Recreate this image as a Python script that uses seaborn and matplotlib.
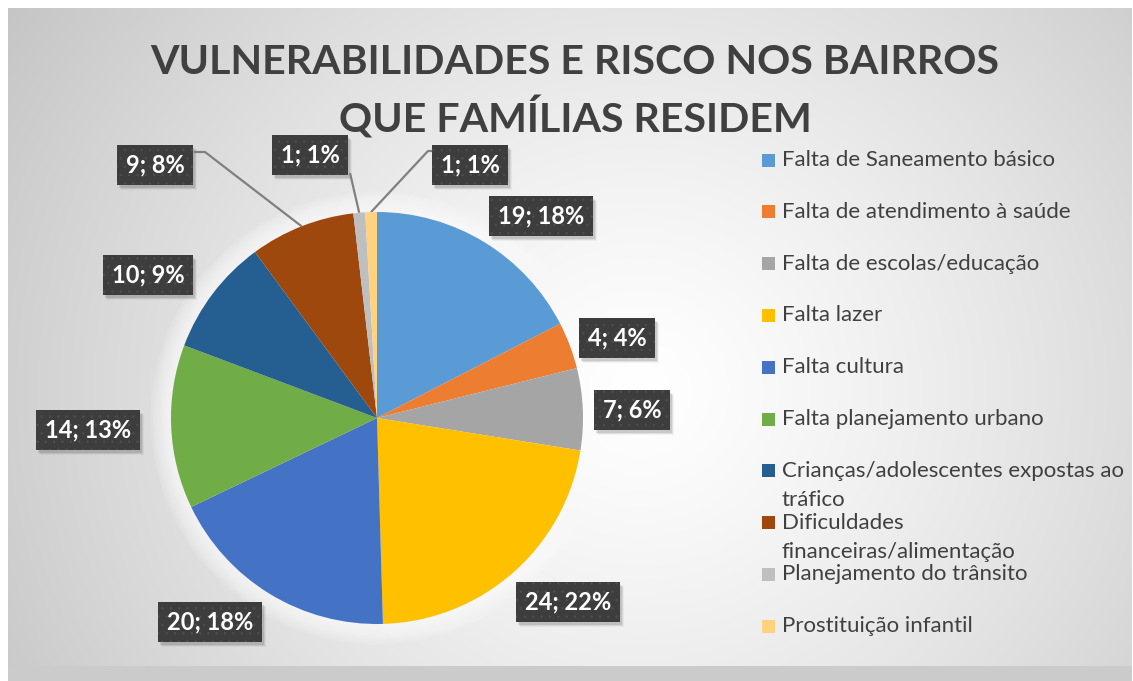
import numpy as np
import matplotlib
matplotlib.use("Agg")
import matplotlib.pyplot as plt
import seaborn as sns
from matplotlib.patches import Rectangle, Circle

# dados
categories = [
    "Falta de Saneamento básico",
    "Falta de atendimento à saúde",
    "Falta de escolas/educação",
    "Falta lazer",
    "Falta cultura",
    "Falta planejamento urbano",
    "Crianças/adolescentes expostas ao\ntráfico",
    "Dificuldades\nfinanceiras/alimentação",
    "Planejamento do trânsito",
    "Prostituição infantil",
]
counts = [19, 4, 7, 24, 20, 14, 10, 9, 1, 1]
percent_labels = ["18%", "4%", "6%", "22%", "18%", "13%", "9%", "8%", "1%", "1%"]
colors = ["#5B9BD5", "#ED7D31", "#A5A5A5", "#FFC000", "#4472C4",
          "#70AD47", "#255E91", "#9E480E", "#BFBFBF", "#FFD27F"]
title_lines = ["VULNERABILIDADES E RISCO NOS BAIRROS", "QUE FAMÍLIAS RESIDEM"]

# layout em pixels (origem no canto superior esquerdo)
W, H = 1133, 681
pie_cx, pie_cy, pie_r = 377, 418, 206
label_pos = [(541, 216), (617, 338), (632, 410), (568, 602), (210, 622),
             (88, 430), (148, 275), (155, 165), (310, 155), (470, 165)]
leader_start = {7: [(194, 152), (205, 152)],
                8: [(350, 173)],
                9: [(438, 151), (428, 151)]}
legend_x, legend_y0, legend_step, legend_line = 762, 160, 51.8, 29

sns.set_style("white")
plt.rcParams["font.family"] = ["Lato", "DejaVu Sans"]
plt.rcParams["hatch.linewidth"] = 0.6
txt_color = "#404040"

fig = plt.figure(figsize=(W / 100, H / 100), dpi=100)
fig.patch.set_facecolor("white")

# fundo com gradiente radial
bg = fig.add_axes([0, 0, 1, 1])
bg.axis("off")
yy, xx = np.mgrid[8:H, 8:1132]
d = np.sqrt((xx - 640.0) ** 2 + ((yy - 390.0) * 1.05) ** 2)
v = np.clip(255 - 56 * (d / 730.0) ** 1.25, 190, 255) / 255.0
img = np.dstack([v, v, v])
bg.imshow(img, extent=(8, 1132, H, 8), aspect="auto", interpolation="bilinear")
bg.add_patch(Rectangle((8, 666), 1124, 15, facecolor="#cbcbcb", edgecolor="none"))
bg.set_xlim(0, W)
bg.set_ylim(H, 0)

# brilho branco em volta da pizza
for k in range(8):
    bg.add_patch(Circle((pie_cx, pie_cy), pie_r + 3 + 2.5 * k,
                        facecolor="white", edgecolor="none", alpha=0.12))

# pizza
ax = fig.add_axes([(pie_cx - pie_r) / W, (H - pie_cy - pie_r) / H,
                   2 * pie_r / W, 2 * pie_r / H])
palette = sns.color_palette(colors)
wedges, _ = ax.pie(counts, colors=palette, startangle=90, counterclock=False,
                   radius=1, wedgeprops=dict(linewidth=0))
ax.set_xlim(-1, 1)
ax.set_ylim(-1, 1)
ax.set_aspect("equal")
ax.axis("off")

fig.canvas.draw()

# linhas de chamada
for i, pts in leader_start.items():
    w = wedges[i]
    mid = np.deg2rad((w.theta1 + w.theta2) / 2)
    px, py = ax.transData.transform((np.cos(mid), np.sin(mid)))
    xs = [p[0] for p in pts] + [px]
    ys = [p[1] for p in pts] + [H - py]
    bg.plot(xs, ys, color="#808080", linewidth=1.6, solid_capstyle="butt")

# rótulos de dados
labels = []
for i, (x, y) in enumerate(label_pos):
    s = f"{counts[i]}; {percent_labels[i]}"
    t = fig.text(x / W, 1 - y / H, s, ha="center", va="center", fontsize=17,
                 fontweight="bold", color="white", zorder=3,
                 bbox=dict(boxstyle="square,pad=0.38", facecolor="#3d3d3d",
                           edgecolor="#4d4d4d", linewidth=0, hatch=".."))
    labels.append(t)

# sombra suave dos rótulos
renderer = fig.canvas.get_renderer()
for t in labels:
    t.update_bbox_position_size(renderer)
    bb = t.get_bbox_patch().get_window_extent(renderer)
    for k, a in enumerate([0.10, 0.07, 0.04]):
        bg.add_patch(Rectangle((bb.x0 + 2 + k, H - bb.y1 + 3 + k), bb.width, bb.height,
                               facecolor="black", edgecolor="none", alpha=a))

# título
for j, line in enumerate(title_lines):
    fig.text(575 / W, 1 - (62 + 56 * j) / H, line, ha="center", va="center",
             fontsize=29.6, fontweight="bold", color=txt_color)

# legenda
for i, lab in enumerate(categories):
    yc = legend_y0 + legend_step * i
    bg.add_patch(Rectangle((legend_x, yc - 6.5), 13, 13,
                           facecolor=palette[i], edgecolor="none"))
    for k, part in enumerate(lab.split("\n")):
        bg.text(legend_x + 20, yc + legend_line * k, part, ha="left",
                va="center", fontsize=16, color=txt_color)

fig.savefig("out.png", dpi=100)
